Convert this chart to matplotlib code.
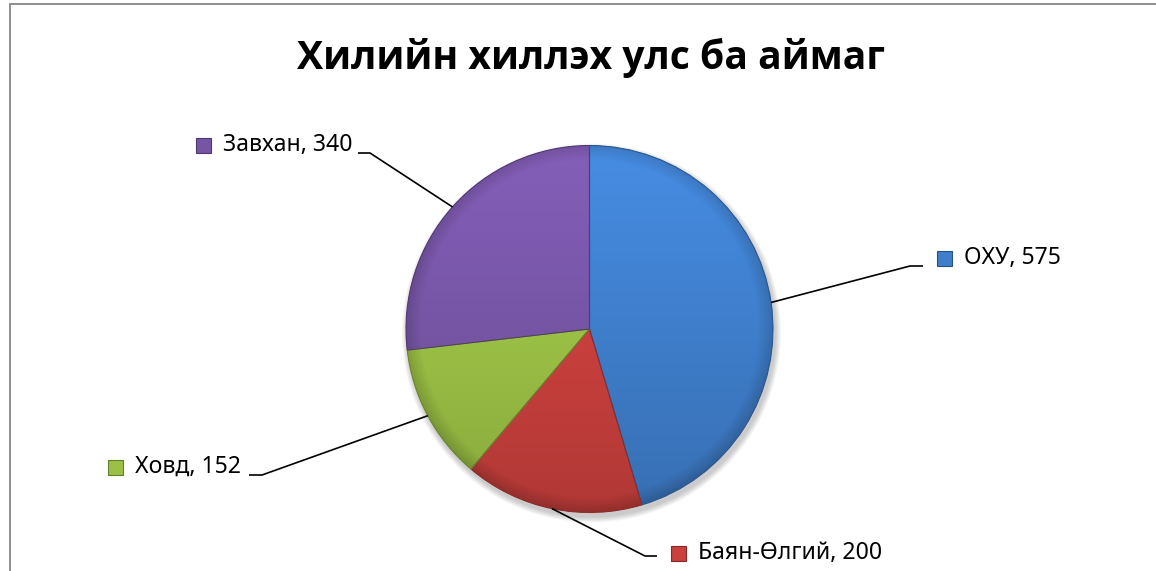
import numpy as np
import matplotlib.pyplot as plt
from matplotlib.patches import Rectangle, Circle, Wedge
from matplotlib.colors import to_rgb

W, H = 1156, 571

title = "Хилийн хиллэх улс ба аймаг"
names = ["ОХУ", "Баян-Өлгий", "Ховд", "Завхан"]
values = [575, 200, 152, 340]
colors = ["#3F7ECB", "#C9403D", "#9BC045", "#7655A5"]

# label layout in pixels (marker centre, elbow of leader, end of stub)
label_pos = [(944, 258), (678, 553), (115, 467), (203, 145)]
elbows = [(910, 266), (645, 556), (262, 475), (370, 153)]
stub_ends = [(923, 266), (657, 556), (249, 475), (358, 153)]

cx, cy, R = 589.5, 329, 183.5

plt.rcParams['font.family'] = ['Noto Sans', 'DejaVu Sans']

fig = plt.figure(figsize=(W / 100, H / 100), dpi=100)
ax = fig.add_axes([0, 0, 1, 1])


def fy(y):
    return H - y


# soft shadow
for k in range(6):
    ax.add_patch(Circle((cx + 2, fy(cy) - 4), R + 1 + k, color='black',
                        alpha=0.035, lw=0, zorder=1))

wedges, _ = ax.pie(values, colors=colors, startangle=90, counterclock=False,
                   center=(cx, fy(cy)), radius=R,
                   wedgeprops=dict(linewidth=0, zorder=2))

# shading: lighter at top, darker bevel near the rim
n = 400
g = np.linspace(-1, 1, n)
X, Y = np.meshgrid(g, g)
r = np.hypot(X, Y)
shade = 1.0 + 0.12 * Y
rim = np.clip((r - 0.92) / 0.08, 0, 1)
shade = shade - 0.15 * rim
for w, c in zip(wedges, colors):
    base = np.array(to_rgb(c))
    img = np.clip(base[None, None, :] * shade[..., None], 0, 1)
    im = ax.imshow(img, extent=(cx - R, cx + R, fy(cy) - R, fy(cy) + R),
                   origin='lower', zorder=3, interpolation='bilinear')
    im.set_clip_path(w)
    dark = np.array(to_rgb(c)) * 0.7
    ax.add_patch(Wedge(w.center, w.r, w.theta1, w.theta2, fill=False,
                       edgecolor=dark, lw=0.8, zorder=4))

# leader lines and labels
for i, w in enumerate(wedges):
    mid = np.deg2rad((w.theta1 + w.theta2) / 2)
    px = cx + R * np.cos(mid)
    py = fy(cy) + R * np.sin(mid)
    ex, ey = elbows[i]
    sx, sy = stub_ends[i]
    ax.plot([sx, ex, px], [fy(sy), fy(ey), py], color='black', lw=1.2,
            zorder=5, solid_capstyle='butt')
    mx, my = label_pos[i]
    ax.add_patch(Rectangle((mx - 7.5, fy(my) - 7.5), 15, 15,
                           facecolor=colors[i],
                           edgecolor=np.array(to_rgb(colors[i])) * 0.65,
                           lw=0.8, zorder=5))
    ax.text(mx + 20, fy(my), f"{names[i]}, {values[i]}", fontsize=16.6,
            va='center', ha='left', color='black', zorder=6)

ax.text(591, fy(58), title, fontsize=28.2, fontweight='bold',
        family=['Open Sans', 'DejaVu Sans'],
        ha='center', va='center', color='black')

# chart frame
ax.plot([10, 10, W], [0, fy(4), fy(4)], color='#868686', lw=1.3,
        zorder=6, solid_joinstyle='miter')

ax.set_xlim(0, W)
ax.set_ylim(0, H)
ax.set_aspect('auto')
ax.axis('off')

fig.savefig('out.png', dpi=100)
